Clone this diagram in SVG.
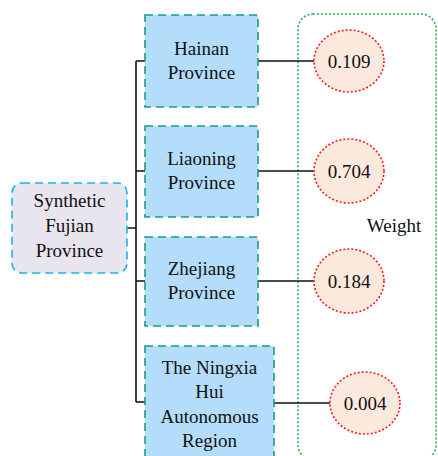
<svg xmlns="http://www.w3.org/2000/svg" width="438" height="456" viewBox="0 0 438 456">
<style>
text{font-family:'Liberation Serif','Times New Roman',Tinos,'DejaVu Serif',serif;font-size:19px;fill:#111;text-anchor:middle}
.root{fill:#e9e5ef;stroke:#1cb2ea;stroke-width:1.6;stroke-dasharray:8 5}
.box{fill:#b3ddfb;stroke:#19998a;stroke-width:1.6;stroke-dasharray:8 5}
.w{fill:#fbe9dd;stroke:#f01c1c;stroke-width:1.6;stroke-dasharray:2 2}
.grp{fill:none;stroke:#1fb356;stroke-width:1.6;stroke-dasharray:2 2}
.c{fill:none;stroke:#111;stroke-width:1.6}
</style>
<rect x="0" y="0" width="438" height="456" fill="#fff"/>
<g id="weight-group">
<rect class="grp" x="298" y="14" width="138" height="446" rx="15"/>
<text x="394" y="232">Weight</text>
</g>
<g id="connectors">
<path class="c" d="M127 228H136M136 61V402M136 61H145M136 171H145M136 281H145M136 402H145"/>
<path class="c" d="M258 61H314M258 171H314M258 281H314M274 403H330"/>
</g>
<g id="synthetic-fujian">
<rect class="root" x="12" y="183" width="115" height="90" rx="10"/>
<text x="69.5" y="207">Synthetic</text>
<text x="69.5" y="232">Fujian</text>
<text x="69.5" y="257">Province</text>
</g>
<g id="hainan">
<rect class="box" x="145" y="15" width="113" height="92"/>
<text x="201.5" y="55">Hainan</text>
<text x="201.5" y="79">Province</text>
</g>
<g id="liaoning">
<rect class="box" x="145" y="126" width="113" height="91"/>
<text x="201.5" y="165">Liaoning</text>
<text x="201.5" y="189">Province</text>
</g>
<g id="zhejiang">
<rect class="box" x="145" y="237" width="113" height="89"/>
<text x="201.5" y="275">Zhejiang</text>
<text x="201.5" y="299">Province</text>
</g>
<g id="ningxia">
<rect class="box" x="145" y="346" width="129" height="115"/>
<text x="209.5" y="374">The Ningxia</text>
<text x="209.5" y="398">Hui</text>
<text x="209.5" y="423">Autonomous</text>
<text x="209.5" y="447">Region</text>
</g>
<g id="w-hainan">
<ellipse class="w" cx="349" cy="61" rx="35" ry="31"/>
<text x="349" y="68">0.109</text>
</g>
<g id="w-liaoning">
<ellipse class="w" cx="349" cy="171" rx="35" ry="32"/>
<text x="349" y="178">0.704</text>
</g>
<g id="w-zhejiang">
<ellipse class="w" cx="349" cy="281" rx="35" ry="32"/>
<text x="349" y="288">0.184</text>
</g>
<g id="w-ningxia">
<ellipse class="w" cx="365" cy="403" rx="35" ry="31"/>
<text x="365" y="410">0.004</text>
</g>
</svg>
